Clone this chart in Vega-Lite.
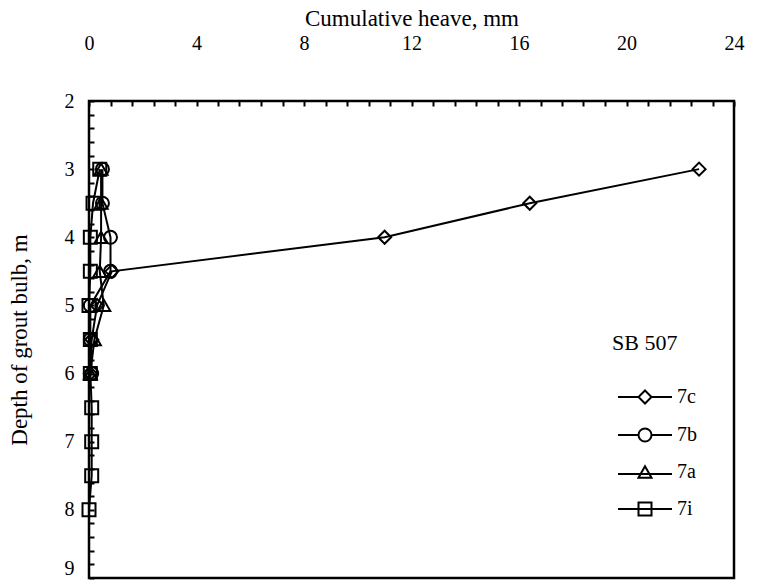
{
  "$schema": "https://vega.github.io/schema/vega-lite/v6.json",
  "width": 645,
  "height": 477,
  "autosize": "none",
  "padding": {"left": 89, "top": 101, "right": 32, "bottom": 7},
  "background": "white",
  "config": {
    "font": "Liberation Serif",
    "view": {"stroke": "black", "strokeWidth": 2.5},
    "axis": {"grid": false, "domain": false, "labelFont": "Liberation Serif", "titleFont": "Liberation Serif", "labelFontSize": 20, "titleFontSize": 23, "titleFontWeight": "normal", "labelColor": "black", "titleColor": "black", "tickColor": "black", "tickWidth": 2, "tickSize": -5}
  },
  "data": {"values": [
    {"series": "7c", "depth": 3, "heave": 22.7},
    {"series": "7c", "depth": 3.5, "heave": 16.4},
    {"series": "7c", "depth": 4, "heave": 11.0},
    {"series": "7c", "depth": 4.5, "heave": 0.85},
    {"series": "7c", "depth": 5, "heave": 0.3},
    {"series": "7c", "depth": 5.5, "heave": 0.1},
    {"series": "7c", "depth": 6, "heave": 0.05},
    {"series": "7b", "depth": 3, "heave": 0.5},
    {"series": "7b", "depth": 3.5, "heave": 0.5},
    {"series": "7b", "depth": 4, "heave": 0.8},
    {"series": "7b", "depth": 4.5, "heave": 0.8},
    {"series": "7b", "depth": 5, "heave": 0.05},
    {"series": "7b", "depth": 5.5, "heave": 0.05},
    {"series": "7b", "depth": 6, "heave": 0.1},
    {"series": "7a", "depth": 3, "heave": 0.45},
    {"series": "7a", "depth": 3.5, "heave": 0.45},
    {"series": "7a", "depth": 4, "heave": 0.45},
    {"series": "7a", "depth": 4.5, "heave": 0.4},
    {"series": "7a", "depth": 5, "heave": 0.55},
    {"series": "7a", "depth": 5.5, "heave": 0.2},
    {"series": "7a", "depth": 6, "heave": 0.05},
    {"series": "7i", "depth": 3, "heave": 0.4},
    {"series": "7i", "depth": 3.5, "heave": 0.15},
    {"series": "7i", "depth": 4, "heave": 0.05},
    {"series": "7i", "depth": 4.5, "heave": 0.05},
    {"series": "7i", "depth": 5, "heave": 0.0},
    {"series": "7i", "depth": 5.5, "heave": 0.05},
    {"series": "7i", "depth": 6, "heave": 0.05},
    {"series": "7i", "depth": 6.5, "heave": 0.1},
    {"series": "7i", "depth": 7, "heave": 0.1},
    {"series": "7i", "depth": 7.5, "heave": 0.1},
    {"series": "7i", "depth": 8, "heave": 0.0}
  ]},
  "encoding": {
    "x": {"field": "heave", "type": "quantitative", "scale": {"domain": [0, 24], "nice": false, "zero": false},
      "axis": {"orient": "top", "title": "Cumulative heave, mm", "titleFontSize": 23, "titlePadding": 3, "labelPadding": 53,
        "values": [0,0.8,1.6,2.4,3.2,4,4.8,5.6,6.4,7.2,8,8.8,9.6,10.4,11.2,12,12.8,13.6,14.4,15.2,16,16.8,17.6,18.4,19.2,20,20.8,21.6,22.4,23.2,24],
        "labelExpr": "datum.value % 4 === 0 ? format(datum.value, 'd') : ''", "labelOverlap": false, "labelBound": false, "labelFlush": false}},
    "y": {"field": "depth", "type": "quantitative", "scale": {"domain": [2, 9], "reverse": true, "nice": false, "zero": false},
      "axis": {"orient": "left", "title": "Depth of grout bulb, m", "titlePadding": 33, "labelPadding": 20,
        "labelBaseline": {"condition": {"test": "datum.value === 9", "value": "bottom"}, "value": "middle"},
        "values": [2,2.2,2.4,2.6,2.8,3,3.2,3.4,3.6,3.8,4,4.2,4.4,4.6,4.8,5,5.2,5.4,5.6,5.8,6,6.2,6.4,6.6,6.8,7,7.2,7.4,7.6,7.8,8,8.2,8.4,8.6,8.8,9],
        "labelExpr": "datum.value % 1 === 0 ? format(datum.value, 'd') : ''", "labelOverlap": false, "labelBound": false, "labelFlush": false}}
  },
  "layer": [
    {"mark": {"type": "line", "color": "black", "strokeWidth": 2},
     "encoding": {"detail": {"field": "series"}, "order": {"field": "depth", "type": "quantitative"}}},
    {"mark": {"type": "point", "filled": false, "stroke": "black", "strokeWidth": 2, "size": 169, "opacity": 0},
     "encoding": {"shape": {"field": "series", "type": "nominal",
        "scale": {"domain": ["7c", "7b", "7a", "7i"], "range": [
          "M-4.15,0L-1,0M1,0L4.15,0M0,-1L1,0L0,1L-1,0Z",
          "M-4.15,0L-1,0M1,0L4.15,0M1,0A1,1,0,1,1,-1,0A1,1,0,1,1,1,0Z",
          "M-4.15,0.3L4.15,0.3M0,-0.866L-1,0.866L1,0.866Z",
          "M-4.15,0L4.15,0M-1,-1L1,-1L1,1L-1,1Z"]},
        "legend": {"title": "SB 507", "orient": "none", "legendX": 523, "legendY": 232,
          "titleFont": "Liberation Serif", "titleFontSize": 22, "titleFontWeight": "normal", "titleColor": "black", "titlePadding": 32,
          "labelFont": "Liberation Serif", "labelFontSize": 20, "labelColor": "black", "labelOffset": 22, "symbolOffset": 23,
          "symbolSize": 169, "symbolOpacity": 1, "symbolStrokeColor": "black", "symbolStrokeWidth": 2, "symbolFillColor": "transparent", "rowPadding": 16}}}
    },
    {"mark": {"type": "point", "filled": false, "stroke": "black", "strokeWidth": 2, "size": 169, "opacity": 1},
     "encoding": {"shape": {"field": "series", "type": "nominal",
        "scale": {"domain": ["7c", "7b", "7a", "7i"], "range": ["diamond", "circle", "triangle-up", "square"]},
        "legend": null}}
    }
  ],
  "resolve": {"scale": {"shape": "independent"}}
}
